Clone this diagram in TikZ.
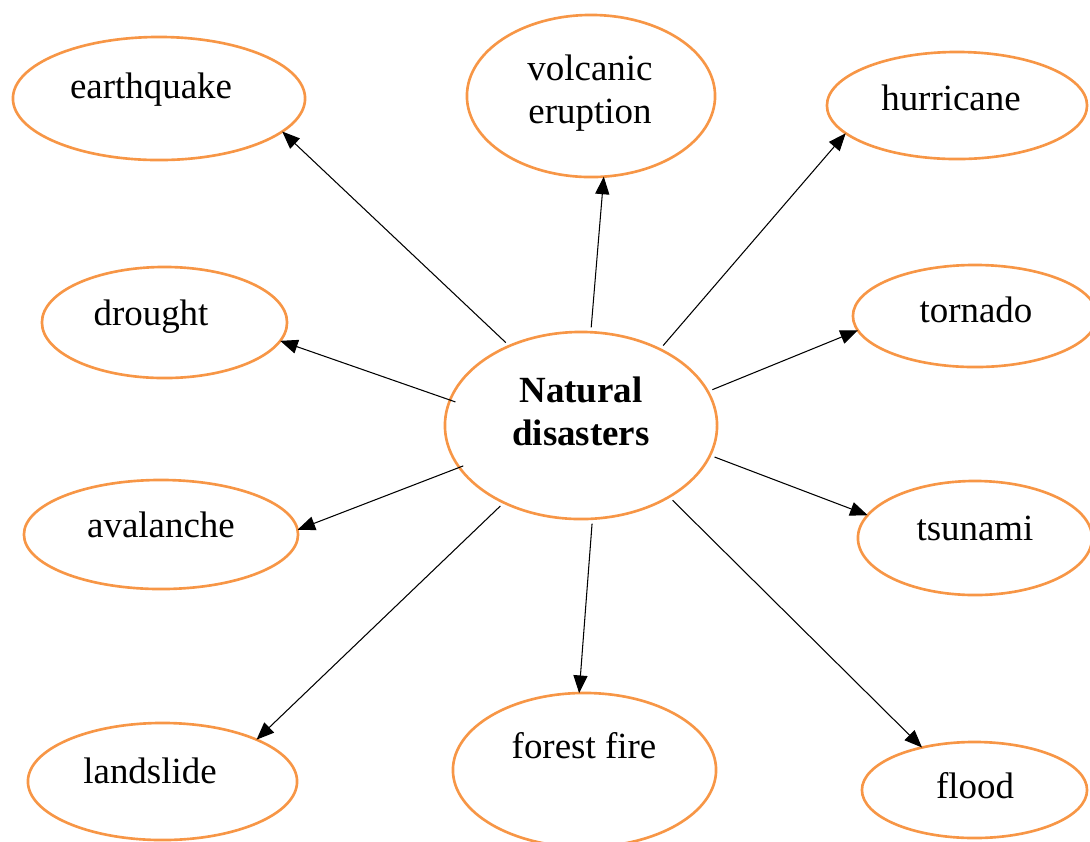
\documentclass[tikz,border=0pt]{standalone}
\usepackage{fontspec}
\setmainfont{Liberation Serif}
\usetikzlibrary{shapes.geometric,arrows.meta}
\definecolor{bubbleorange}{RGB}{247,150,70}
\tikzset{
  bubble/.style={ellipse,draw=bubbleorange,line width=0.75pt,inner sep=0pt,outer sep=0pt},
  lbl/.style={anchor=base,font=\fontsize{10.5pt}{12pt}\selectfont,inner sep=0pt,align=center},
  link/.style={line width=0.3pt,-{Triangle[length=5pt,width=4pt]},shorten <=1.4pt}
}
\begin{document}
\begin{tikzpicture}[x=0.01cm,y=-0.01cm]
\useasboundingbox (0,0) rectangle (1090,841);
% ellipses
\node[bubble,minimum width=2.72cm,minimum height=1.87cm] (nd) at (581,425.5) {};
\node[bubble,minimum width=2.92cm,minimum height=1.23cm] (eq) at (159,98.5) {};
\node[bubble,minimum width=2.48cm,minimum height=1.62cm] (vo) at (591,96) {};
\node[bubble,minimum width=2.60cm,minimum height=1.07cm] (hu) at (957,105.5) {};
\node[bubble,minimum width=2.45cm,minimum height=1.11cm] (dr) at (164.5,322.5) {};
\node[bubble,minimum width=2.44cm,minimum height=1.02cm] (to) at (975,316) {};
\node[bubble,minimum width=2.74cm,minimum height=1.09cm] (av) at (161,534.5) {};
\node[bubble,minimum width=2.34cm,minimum height=1.14cm] (ts) at (975,538) {};
\node[bubble,minimum width=2.69cm,minimum height=1.17cm] (la) at (162.5,781.5) {};
\node[bubble,minimum width=2.63cm,minimum height=1.54cm] (fo) at (584.5,770) {};
\node[bubble,minimum width=2.25cm,minimum height=0.96cm] (fl) at (974.5,790) {};
% labels (base = baseline of the last line)
\node[lbl,font=\fontsize{10.5pt}{12.2pt}\selectfont\bfseries] (tnd) at (581,445) {Natural\\disasters};
\node[lbl] (teq) at (151,98) {earthquake};
\node[lbl] (tvo) at (590,123) {volcanic\\eruption};
\node[lbl] (thu) at (951,110) {hurricane};
\node[lbl] (tdr) at (151,325) {drought};
\node[lbl] (tto) at (976,322) {tornado};
\node[lbl] (tav) at (161,537) {avalanche};
\node[lbl] (tts) at (975,540) {tsunami};
\node[lbl] (tla) at (150,783) {landslide};
\node[lbl] (tfo) at (584,758) {forest fire};
\node[lbl] (tfl) at (975,798) {flood};
% connectors
\draw[link] (nd.132.6) -- (eq.-15.2);
\draw[link] (nd.84.4) -- (vo.-81);
\draw[link] (nd.44.5) -- (hu.194.2);
\draw[link,shorten <=-1.6pt] (nd.169.9) -- (dr.-9.7);
\draw[link] (nd.15.6) -- (to.187.9);
\draw[link,shorten <=-1.2pt] (nd.199) -- (av.2.8);
\draw[link] (nd.-13.8) -- (ts.168.2);
\draw[link] (nd.225.6) -- (la.24.5);
\draw[link] (nd.-83.1) -- (fo.94.8);
\draw[link] (nd.-39.8) -- (fl.141.7);
\end{tikzpicture}
\end{document}
